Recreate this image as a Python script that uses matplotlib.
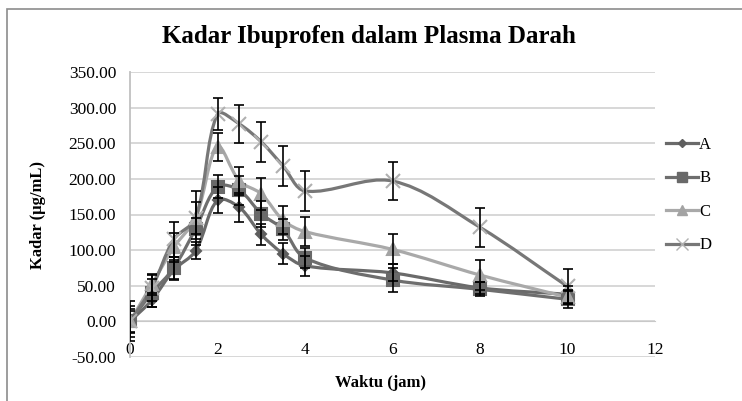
import numpy as np
import matplotlib.pyplot as plt
from matplotlib.path import Path
from matplotlib.patches import PathPatch, Rectangle
from matplotlib.lines import Line2D

plt.rcParams['font.family'] = ['Liberation Serif', 'DejaVu Serif']

# data
waktu = [0, 0.5, 1, 1.5, 2, 2.5, 3, 3.5, 4, 6, 8, 10]
kadar_a = [0, 30, 72, 99, 170, 160, 122, 95, 78, 68, 47, 38]
kadar_b = [0, 40, 75, 130, 189, 184, 151, 129, 89, 58, 45, 31]
kadar_c = [0, 52, 104, 145, 245, 197, 179, 142, 126, 101, 65, 34]
kadar_d = [0, 47, 115, 145, 291, 277, 252, 218, 183, 197, 132, 49]
err_a = [17, 10, 14, 12, 18, 20, 15, 15, 14, 12, 8, 12]
err_b = [22, 20, 15, 15, 16, 20, 18, 15, 14, 17, 10, 12]
err_c = [15, 15, 20, 22, 20, 20, 22, 20, 20, 21, 21, 10]
err_d = [28, 18, 25, 38, 23, 27, 28, 28, 28, 27, 27, 25]
series = ['A', 'B', 'C', 'D']

# rough pixel size of one data unit, used so smoothing looks right on screen
SX, SY = 43.75, 0.71


def smooth_path(x, y):
    # smoothed line like Excel: bezier through every point, handle length
    # proportional to the neighbouring segment lengths (on screen)
    pts = np.column_stack([x, y]).astype(float)
    scr = pts * [SX, SY]
    n = len(pts)
    verts = [pts[0]]
    codes = [Path.MOVETO]
    for i in range(n - 1):
        i0, i3 = max(i - 1, 0), min(i + 2, n - 1)
        seg = np.linalg.norm(scr[i + 1] - scr[i])
        d_prev = np.linalg.norm(scr[i] - scr[i0])
        d_next = np.linalg.norm(scr[i3] - scr[i + 1])
        t1 = (pts[i + 1] - pts[i0])
        t2 = (pts[i3] - pts[i])
        k1 = seg / (d_prev + seg) / 3 if i > 0 else 1 / 3
        k2 = seg / (d_next + seg) / 3 if i < n - 2 else 1 / 3
        if i == 0:
            t1 = pts[i + 1] - pts[i]
            k1 = 1 / 3
        if i == n - 2:
            t2 = pts[i + 1] - pts[i]
            k2 = 1 / 3
        c1 = pts[i] + t1 * k1
        c2 = pts[i + 1] - t2 * k2
        verts += [c1, c2, pts[i + 1]]
        codes += [Path.CURVE4] * 3
    return Path(verts, codes)


fig = plt.figure(figsize=(7.42, 4.01), dpi=100)
ax = fig.add_axes([130 / 742, 1 - 357 / 401, 525 / 742, 285 / 401])

fig.patches.append(Rectangle((7 / 742, -0.1), 1.2, 1.1 - 9 / 401,
                             transform=fig.transFigure, fill=False,
                             edgecolor='#8c8c8c', linewidth=1.2))

styles = [
    (kadar_a, '#6a6a6a', 'D', 5, '#5e5e5e'),
    (kadar_b, '#6e6e6e', 's', 9, '#696969'),
    (kadar_c, '#a9a9a9', '^', 9, '#a3a3a3'),
    (kadar_d, '#777777', 'x', 10, '#b0b0b0'),
]

handles = []
for name, (vals, lc, mk, ms, mc) in zip(series, styles):
    ax.add_patch(PathPatch(smooth_path(waktu, vals), fill=False,
                           edgecolor=lc, linewidth=2.3, zorder=3))
    ax.plot(waktu, vals, linestyle='none', marker=mk, markersize=ms,
            markerfacecolor=mc, markeredgecolor=mc, markeredgewidth=1.5,
            zorder=4)
    handles.append(Line2D([], [], color=lc, linewidth=2.3, marker=mk,
                          markersize=ms * 0.8, markerfacecolor=mc,
                          markeredgecolor=mc, label=name))

for vals, errs in [(kadar_a, err_a), (kadar_b, err_b),
                   (kadar_c, err_c), (kadar_d, err_d)]:
    ax.errorbar(waktu, vals, yerr=errs, fmt='none', ecolor='black',
                elinewidth=1.2, capsize=3.5, capthick=1.2, zorder=5)

ax.set_xlim(0, 12)
ax.set_ylim(-50, 350)
ax.set_xticks(range(0, 13, 2))
ax.set_yticks(range(-50, 351, 50))
ax.set_yticklabels(['%.2f' % v for v in range(-50, 351, 50)])
ax.yaxis.grid(True, color='#d4d4d4', linewidth=1.3)
ax.set_axisbelow(True)
for s in ['top', 'right']:
    ax.spines[s].set_visible(False)
ax.spines['bottom'].set_position(('data', 0))
ax.spines['bottom'].set_color('#c8c8c8')
ax.spines['left'].set_color('#c0c0c0')
ax.spines['left'].set_linewidth(1.3)
ax.tick_params(axis='both', length=0, labelsize=12.5)
ax.tick_params(axis='x', pad=14.5)
ax.tick_params(axis='y', pad=10)

fig.text(369 / 742, 1 - 37 / 401, 'Kadar Ibuprofen dalam Plasma Darah',
         ha='center', va='center', fontsize=18, fontweight='bold')
fig.text(38 / 742, 1 - 215 / 401, 'Kadar (µg/mL)', rotation=90,
         ha='center', va='center', fontsize=12, fontweight='bold')
fig.text(380 / 742, 1 - 383 / 401, 'Waktu (jam)', ha='center',
         va='center', fontsize=12, fontweight='bold')

fig.legend(handles=handles, loc='upper left',
           bbox_to_anchor=(651 / 742, 1 - 122 / 401), frameon=False,
           fontsize=12, handlelength=1.9, handletextpad=0.1,
           labelspacing=1.05)

fig.savefig('out.png', dpi=100)
